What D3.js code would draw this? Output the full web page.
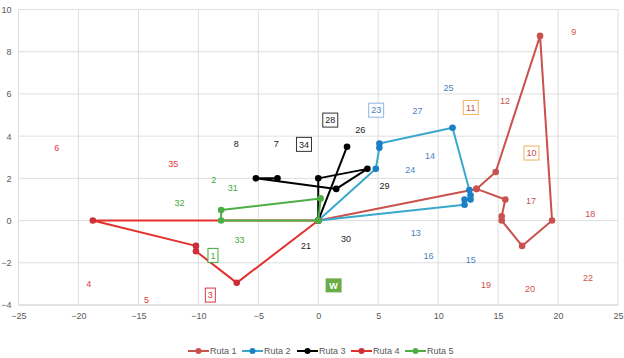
<!DOCTYPE html>
<html>
<head>
<meta charset="utf-8">
<script src="https://cdn.jsdelivr.net/npm/d3@7.9.0/dist/d3.min.js"></script>
<style>
  body { margin: 0; background: #fff; }
  svg { display: block; font-family: "Liberation Sans", Arial, sans-serif; }
</style>
</head>
<body>
<svg id="chart" width="624" height="358"></svg>
<script>
const xTicks = [-25, -20, -15, -10, -5, 0, 5, 10, 15, 20, 25];
const yTicks = [-4, -2, 0, 2, 4, 6, 8, 10];

const routeNames = ['Ruta 1', 'Ruta 2', 'Ruta 3', 'Ruta 4', 'Ruta 5'];
const ruta1 = [[0, 0], [13.2, 1.5], [14.8, 2.3], [18.5, 8.75], [19.5, 0], [17, -1.2], [15.3, 0], [15.3, 0.2], [15.6, 1.0], [13.2, 1.5], [0, 0]];
const ruta2 = [[0, 0], [4.8, 2.45], [5.1, 3.45], [5.1, 3.65], [11.2, 4.4], [12.6, 1.45], [12.7, 1.2], [12.7, 1.0], [12.2, 1.0], [12.2, 0.75], [0, 0]];
const ruta3 = [[-3.4, 2], [-5.2, 2], [1.5, 1.5], [4.1, 2.45], [0, 2], [0, 0], [2.4, 3.5]];
const ruta4 = [[0, 0], [-18.8, 0], [-10.2, -1.2], [-10.2, -1.45], [-6.8, -2.95], [0, 0]];
const ruta5 = [[0, 0], [-8.1, 0], [-8.1, 0.5], [0.2, 1.05], [0, 0]];

// point labels: [text, x, y, group, boxed]
const labels = [
  ['9', 21.3, 8.94, 1, false], ['12', 15.58, 5.67, 1, false], ['17', 17.75, 0.95, 1, false],
  ['18', 22.69, 0.32, 1, false], ['19', 14.0, -3.03, 1, false], ['20', 17.67, -3.23, 1, false],
  ['22', 22.5, -2.73, 1, false], ['10', 17.78, 3.2, 6, true], ['11', 12.72, 5.36, 6, true],
  ['25', 10.86, 6.27, 2, false], ['27', 8.28, 5.2, 2, false], ['14', 9.33, 3.09, 2, false],
  ['24', 7.67, 2.4, 2, false], ['13', 8.14, -0.58, 2, false], ['16', 9.19, -1.65, 2, false],
  ['15', 12.72, -1.84, 2, false], ['23', 4.83, 5.23, 2, true],
  ['8', -6.83, 3.63, 3, false], ['7', -3.5, 3.64, 3, false], ['34', -1.19, 3.61, 3, true],
  ['28', 1.0, 4.76, 3, true], ['26', 3.5, 4.3, 3, false], ['29', 5.53, 1.65, 3, false],
  ['21', -1.03, -1.21, 3, false], ['30', 2.31, -0.85, 3, false],
  ['6', -21.8, 3.47, 4, false], ['35', -12.1, 2.71, 4, false], ['4', -19.14, -2.99, 4, false],
  ['5', -14.33, -3.77, 4, false], ['3', -9.0, -3.53, 4, true],
  ['2', -8.72, 1.94, 5, false], ['31', -7.14, 1.57, 5, false], ['32', -11.58, 0.82, 5, false],
  ['33', -6.56, -0.91, 5, false], ['1', -8.78, -1.65, 5, true]
];
const depot = ['W', 1.28, -3.07];

const routes = [ruta1, ruta2, ruta3, ruta4, ruta5];
const lineColors = ['#c9524e', '#3aa8cc', '#000000', '#e3302d', '#4caf45'];
const markerColors = ['#c9524e', '#1a7fc4', '#000000', '#cc2f3a', '#4caf45'];
const textColors = {1: '#c9524e', 2: '#4a7fc0', 3: '#1a1a1a', 4: '#e0383a', 5: '#44a83c', 6: '#c9524e'};
const boxColors = {1: '#c9524e', 2: '#8cb8e4', 3: '#333333', 4: '#e0383a', 5: '#44a83c', 6: '#f0b060'};

const svg = d3.select('#chart');
const x = d3.scaleLinear().domain([-25, 25]).range([18.5, 618]);
const y = d3.scaleLinear().domain([-4, 10]).range([305, 9.5]);

// grid
const grid = svg.append('g').attr('class', 'grid');
grid.selectAll('line.v').data(xTicks).join('line')
  .attr('x1', d => x(d)).attr('x2', d => x(d))
  .attr('y1', y(10)).attr('y2', y(-4))
  .attr('stroke', '#dedede').attr('stroke-width', 1);
grid.selectAll('line.h').data(yTicks).join('line')
  .attr('x1', x(-25)).attr('x2', x(25))
  .attr('y1', d => y(d)).attr('y2', d => y(d))
  .attr('stroke', d => d === -4 ? '#c8c8c8' : '#dedede').attr('stroke-width', 1);

// axes labels
const xAxis = d3.axisBottom(x).tickValues(xTicks).tickSize(0).tickPadding(8);
svg.append('g').attr('transform', `translate(0,${y(-4)})`).call(xAxis)
  .call(g => g.select('.domain').remove())
  .call(g => g.selectAll('text').attr('fill', '#595959').style('font-size', '9px').style('font-family', 'Liberation Sans, Arial, sans-serif'));
const yAxis = d3.axisLeft(y).tickValues(yTicks).tickSize(0).tickPadding(7);
svg.append('g').attr('transform', `translate(${x(-25)},0)`).call(yAxis)
  .call(g => g.select('.domain').remove())
  .call(g => g.selectAll('text').attr('fill', '#595959').style('font-size', '9px').style('font-family', 'Liberation Sans, Arial, sans-serif'));

// routes
const line = d3.line().x(d => x(d[0])).y(d => y(d[1]));
routes.forEach((r, i) => {
  const g = svg.append('g').attr('class', 'route');
  g.append('path').datum(r).attr('d', line)
    .attr('fill', 'none').attr('stroke', lineColors[i]).attr('stroke-width', 2)
    .attr('stroke-linejoin', 'round');
  g.selectAll('circle').data(r).join('circle')
    .attr('cx', d => x(d[0])).attr('cy', d => y(d[1])).attr('r', 3.3)
    .attr('fill', markerColors[i]);
});

// labels
const lg = svg.append('g').attr('class', 'labels');
labels.forEach(([t, lx, ly, grp, boxed]) => {
  const cx = x(lx), cy = y(ly);
  if (boxed) {
    const w = t.length > 1 ? 15 : 10;
    lg.append('rect').attr('x', cx - w / 2).attr('y', cy - 7).attr('width', w).attr('height', 14)
      .attr('fill', '#fff').attr('stroke', boxColors[grp]).attr('stroke-width', 1);
  }
  lg.append('text').attr('x', cx).attr('y', cy + 3.2)
    .attr('text-anchor', 'middle').attr('fill', textColors[grp])
    .style('font-size', '9px').text(t);
});
lg.append('rect').attr('x', x(depot[1]) - 8).attr('y', y(depot[2]) - 7)
  .attr('width', 16).attr('height', 14).attr('fill', '#6aac46');
lg.append('text').attr('x', x(depot[1])).attr('y', y(depot[2]) + 3.5)
  .attr('text-anchor', 'middle').attr('fill', '#fff').style('font-size', '9px')
  .style('font-weight', 'bold').text(depot[0]);

// legend
const legendX = [188, 242, 297, 351, 405];
const leg = svg.append('g').attr('class', 'legend');
routeNames.forEach((name, i) => {
  const gx = legendX[i];
  leg.append('line').attr('x1', gx).attr('x2', gx + 21).attr('y1', 351).attr('y2', 351)
    .attr('stroke', lineColors[i]).attr('stroke-width', 2);
  leg.append('circle').attr('cx', gx + 10.5).attr('cy', 351).attr('r', 3).attr('fill', markerColors[i]);
  leg.append('text').attr('x', gx + 22).attr('y', 354.2).attr('fill', '#595959')
    .style('font-size', '9px').text(name);
});
</script>
</body>
</html>
